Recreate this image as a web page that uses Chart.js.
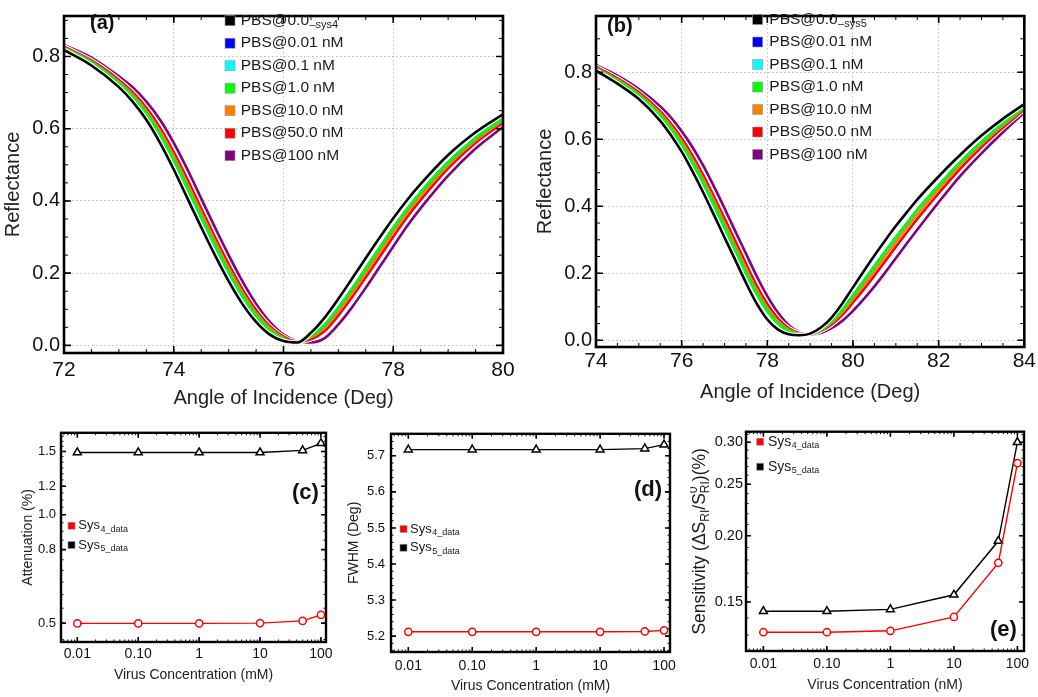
<!DOCTYPE html>
<html>
<head>
<meta charset="utf-8">
<script src="https://cdn.jsdelivr.net/npm/chart.js@4.4.1/dist/chart.umd.min.js"></script>
<style>
  html, body { margin: 0; padding: 0; background: #fff; }
  #wrap { position: relative; width: 1038px; height: 697px; overflow: hidden; }
  .panel { position: absolute; }
</style>
</head>
<body>
<div id="wrap">
  <div class="panel" style="left:0;top:0;width:520px;height:420px"><canvas id="chartA"></canvas></div>
  <div class="panel" style="left:520px;top:0;width:518px;height:420px"><canvas id="chartB"></canvas></div>
  <div class="panel" style="left:0;top:420px;width:345px;height:277px"><canvas id="chartC"></canvas></div>
  <div class="panel" style="left:345px;top:420px;width:345px;height:277px"><canvas id="chartD"></canvas></div>
  <div class="panel" style="left:690px;top:420px;width:348px;height:277px"><canvas id="chartE"></canvas></div>
</div>
<script>
const FONT = '"Liberation Sans", Arial, Helvetica, sans-serif';

// ---- panel (a): Sys4 reflectance vs angle ----
const angleA = [72, 72.5, 73, 73.25, 73.5, 73.75, 74, 74.25, 74.5, 74.75, 75, 75.25, 75.5, 75.75, 76, 76.25, 76.5, 76.75, 77, 77.25, 77.5, 77.75, 78, 78.25, 78.5, 79, 79.5, 80];
const reflA_0   = [0.818, 0.775, 0.715, 0.675, 0.625, 0.561, 0.487, 0.407, 0.327, 0.250, 0.178, 0.115, 0.065, 0.030, 0.012, 0.008, 0.035, 0.077, 0.129, 0.185, 0.242, 0.298, 0.352, 0.402, 0.447, 0.527, 0.590, 0.640];
const reflA_001 = [0.823, 0.783, 0.726, 0.689, 0.643, 0.583, 0.513, 0.435, 0.355, 0.277, 0.203, 0.137, 0.083, 0.042, 0.018, 0.009, 0.026, 0.057, 0.104, 0.157, 0.213, 0.270, 0.325, 0.377, 0.424, 0.507, 0.574, 0.628];
const reflA_01  = [0.823, 0.783, 0.726, 0.689, 0.643, 0.583, 0.513, 0.435, 0.355, 0.277, 0.203, 0.137, 0.083, 0.042, 0.018, 0.009, 0.026, 0.057, 0.104, 0.157, 0.213, 0.270, 0.325, 0.377, 0.424, 0.507, 0.574, 0.628];
const reflA_1   = [0.823, 0.783, 0.726, 0.689, 0.643, 0.583, 0.513, 0.435, 0.355, 0.277, 0.203, 0.137, 0.083, 0.042, 0.018, 0.009, 0.026, 0.057, 0.104, 0.157, 0.213, 0.270, 0.325, 0.377, 0.424, 0.507, 0.574, 0.628];
const reflA_10  = [0.825, 0.786, 0.730, 0.695, 0.650, 0.593, 0.524, 0.447, 0.367, 0.289, 0.214, 0.147, 0.090, 0.048, 0.021, 0.010, 0.022, 0.049, 0.094, 0.146, 0.201, 0.258, 0.313, 0.366, 0.414, 0.499, 0.568, 0.623];
const reflA_50  = [0.827, 0.789, 0.735, 0.701, 0.658, 0.603, 0.535, 0.459, 0.379, 0.300, 0.225, 0.156, 0.098, 0.053, 0.024, 0.011, 0.017, 0.040, 0.083, 0.134, 0.189, 0.245, 0.301, 0.355, 0.403, 0.490, 0.561, 0.617];
const reflA_100 = [0.832, 0.797, 0.745, 0.715, 0.675, 0.625, 0.561, 0.487, 0.407, 0.327, 0.250, 0.178, 0.115, 0.065, 0.030, 0.012, 0.008, 0.020, 0.058, 0.106, 0.160, 0.217, 0.274, 0.330, 0.380, 0.470, 0.545, 0.605];

// ---- panel (b): Sys5 reflectance vs angle ----
const angleB = [74, 74.5, 75, 75.5, 75.75, 76, 76.25, 76.5, 76.75, 77, 77.25, 77.5, 77.75, 78, 78.25, 78.5, 78.75, 79, 79.25, 79.5, 79.75, 80, 80.25, 80.5, 80.75, 81, 81.25, 81.5, 82, 82.5, 83, 83.5, 84];
const reflB_0   = [0.805, 0.766, 0.720, 0.655, 0.612, 0.563, 0.505, 0.442, 0.375, 0.307, 0.240, 0.172, 0.110, 0.062, 0.032, 0.018, 0.015, 0.020, 0.038, 0.068, 0.110, 0.158, 0.206, 0.253, 0.298, 0.341, 0.381, 0.420, 0.489, 0.553, 0.611, 0.661, 0.705];
const reflB_001 = [0.811, 0.774, 0.731, 0.670, 0.631, 0.584, 0.530, 0.470, 0.405, 0.337, 0.270, 0.202, 0.139, 0.087, 0.050, 0.027, 0.018, 0.019, 0.032, 0.057, 0.092, 0.134, 0.177, 0.221, 0.264, 0.307, 0.348, 0.389, 0.462, 0.531, 0.592, 0.647, 0.696];
const reflB_01  = [0.811, 0.774, 0.731, 0.670, 0.631, 0.584, 0.530, 0.470, 0.405, 0.337, 0.270, 0.202, 0.139, 0.087, 0.050, 0.027, 0.018, 0.019, 0.032, 0.057, 0.092, 0.134, 0.177, 0.221, 0.264, 0.307, 0.348, 0.389, 0.462, 0.531, 0.592, 0.647, 0.696];
const reflB_1   = [0.811, 0.774, 0.731, 0.670, 0.631, 0.584, 0.530, 0.470, 0.405, 0.337, 0.270, 0.202, 0.139, 0.087, 0.050, 0.027, 0.018, 0.019, 0.032, 0.057, 0.092, 0.134, 0.177, 0.221, 0.264, 0.307, 0.348, 0.389, 0.462, 0.531, 0.592, 0.647, 0.696];
const reflB_10  = [0.814, 0.778, 0.735, 0.677, 0.639, 0.594, 0.541, 0.482, 0.418, 0.351, 0.283, 0.216, 0.151, 0.097, 0.057, 0.032, 0.020, 0.018, 0.030, 0.052, 0.084, 0.123, 0.165, 0.207, 0.250, 0.293, 0.335, 0.375, 0.451, 0.522, 0.585, 0.641, 0.693];
const reflB_50  = [0.816, 0.782, 0.740, 0.683, 0.646, 0.603, 0.552, 0.494, 0.430, 0.364, 0.296, 0.229, 0.163, 0.108, 0.065, 0.036, 0.021, 0.017, 0.028, 0.047, 0.076, 0.113, 0.152, 0.193, 0.236, 0.279, 0.321, 0.362, 0.439, 0.512, 0.577, 0.635, 0.689];
const reflB_100 = [0.822, 0.790, 0.750, 0.698, 0.665, 0.624, 0.577, 0.522, 0.460, 0.394, 0.326, 0.259, 0.192, 0.132, 0.082, 0.045, 0.024, 0.016, 0.022, 0.036, 0.058, 0.088, 0.123, 0.161, 0.202, 0.245, 0.288, 0.330, 0.412, 0.490, 0.558, 0.621, 0.680];

const pbsLabels = ['PBS@0.0', 'PBS@0.01 nM', 'PBS@0.1 nM', 'PBS@1.0 nM', 'PBS@10.0 nM', 'PBS@50.0 nM', 'PBS@100 nM'];
const pbsColors = ['#000000', '#0000ff', '#00ffff', '#00ff00', '#ff8000', '#ff0000', '#800080'];
const pbsOrder  = [0, 3, 2, 1, 4, 5, 6];   // black on top, green over blue/cyan

const xTicksA = [72, 74, 76, 78, 80];
const xTicksB = [74, 76, 78, 80, 82, 84];
const reflTicks = [0, 0.2, 0.4, 0.6, 0.8];
const reflTickLabels = ['0.0', '0.2', '0.4', '0.6', '0.8'];

// ---- panels (c)-(e): vs virus concentration ----
const concentration = [0.01, 0.1, 1, 10, 50, 100];
const attenSys4 = [0.499, 0.499, 0.499, 0.500, 0.507, 0.527];
const attenSys5 = [1.49, 1.49, 1.49, 1.49, 1.51, 1.58];
const fwhmSys4  = [5.212, 5.212, 5.212, 5.212, 5.213, 5.216];
const fwhmSys5  = [5.717, 5.717, 5.717, 5.717, 5.720, 5.731];
const sensSys4  = [0.1316, 0.1316, 0.1324, 0.1406, 0.1778, 0.274];
const sensSys5  = [0.1441, 0.1441, 0.1453, 0.1548, 0.1954, 0.300];

const concTicks = [0.01, 0.1, 1, 10, 100];
const concTickLabels = ['0.01', '0.10', '1', '10', '100'];
const attenTicks = [0.5, 0.8, 1.0, 1.2, 1.5];
const attenTickLabels = ['0.5', '0.8', '1.0', '1.2', '1.5'];
const fwhmTicks = [5.2, 5.3, 5.4, 5.5, 5.6, 5.7];
const fwhmTickLabels = ['5.2', '5.3', '5.4', '5.5', '5.6', '5.7'];
const sensTicks = [0.15, 0.20, 0.25, 0.30];
const sensTickLabels = ['0.15', '0.20', '0.25', '0.30'];

// Sensitivity (ΔS_RI / S^0_RI)(%) pieces: [text, kind]
const sensTitleParts = [['Sensitivity (ΔS', 'n'], ['RI', 'sub'], ['/S', 'n'], ['0', 'supsub'], [')(%)', 'n']];

Chart.defaults.font.family = FONT;
Chart.defaults.color = '#161616';

// white edge under some curves, like the original export
const haloPlugin = {
  id: 'halo',
  beforeDatasetDraw(chart, args) {
    const ds = chart.data.datasets[args.index];
    if (!ds.halo) return;
    const el = args.meta.dataset, o = el.options;
    const c = o.borderColor, w = o.borderWidth;
    try {
      o.borderColor = '#ffffff'; o.borderWidth = w + 2.2;
      el.draw(chart.ctx, chart.chartArea);
    } catch (e) {}
    o.borderColor = c; o.borderWidth = w;
  }
};

// heavy frame with inward major/minor ticks on all four sides
const framePlugin = {
  id: 'frame',
  afterDatasetsDraw(chart, args, o) {
    if (!o.xMajor) return;
    const {ctx, chartArea: a, scales: {x, y}} = chart;
    ctx.save();
    ctx.strokeStyle = '#000';
    const drawX = (vals, len, lw) => {
      ctx.lineWidth = lw; ctx.beginPath();
      vals.forEach(v => {
        const p = x.getPixelForValue(v);
        if (p < a.left - 0.5 || p > a.right + 0.5) return;
        ctx.moveTo(p, a.bottom); ctx.lineTo(p, a.bottom - len);
        ctx.moveTo(p, a.top); ctx.lineTo(p, a.top + len);
      });
      ctx.stroke();
    };
    const drawY = (vals, len, lw) => {
      ctx.lineWidth = lw; ctx.beginPath();
      vals.forEach(v => {
        const p = y.getPixelForValue(v);
        if (p < a.top - 0.5 || p > a.bottom + 0.5) return;
        ctx.moveTo(a.left, p); ctx.lineTo(a.left + len, p);
        ctx.moveTo(a.right, p); ctx.lineTo(a.right - len, p);
      });
      ctx.stroke();
    };
    drawX(o.xMinor, o.minorLen, 1); drawY(o.yMinor, o.minorLen, 1);
    drawX(o.xMajor, o.majorLen, 1.6); drawY(o.yMajor, o.majorLen, 1.6);
    ctx.lineWidth = o.width;
    ctx.strokeRect(a.left, a.top, a.right - a.left, a.bottom - a.top);
    ctx.restore();
  }
};

// legend with subscripts, panel tag, and the rich y title of (e)
const decorPlugin = {
  id: 'decor',
  afterDraw(chart, args, o) {
    const ctx = chart.ctx;
    ctx.save();
    ctx.textBaseline = 'middle'; ctx.textAlign = 'left';
    if (o.legendX !== undefined) {
      chart.data.datasets.forEach((ds, i) => {
        const yy = o.legendY + i * o.legendGap;
        ctx.fillStyle = ds.borderColor;
        ctx.fillRect(o.legendX, yy - o.box / 2, o.box, o.box);
        ctx.strokeStyle = '#9a9a9a'; ctx.lineWidth = 0.6;
        ctx.strokeRect(o.legendX, yy - o.box / 2, o.box, o.box);
        ctx.fillStyle = '#1a1a1a';
        ctx.font = o.legendSize + 'px ' + FONT;
        ctx.fillText(ds.label, o.textX, yy);
        if (ds.sub) {
          const w = ctx.measureText(ds.label).width;
          ctx.font = o.subSize + 'px ' + FONT;
          ctx.fillText(ds.sub, o.textX + w + 0.5, yy + o.subDy);
        }
      });
    }
    if (o.tag) {
      ctx.fillStyle = '#111';
      ctx.font = 'bold ' + o.tagSize + 'px ' + FONT;
      ctx.fillText(o.tag, o.tagX, o.tagY);
    }
    if (o.richTitle) {
      const a = chart.chartArea;
      const big = o.richSize + 'px ' + FONT, small = Math.round(o.richSize * 0.66) + 'px ' + FONT;
      let total = 0;
      const widths = sensTitleParts.map(([t, k]) => {
        ctx.font = k === 'n' ? big : small;
        const w = k === 'supsub' ? Math.max(ctx.measureText(t).width, ctx.measureText('RI').width) : ctx.measureText(t).width;
        total += w; return w;
      });
      ctx.translate(o.richX, (a.top + a.bottom) / 2);
      ctx.rotate(-Math.PI / 2);
      ctx.fillStyle = '#1a1a1a';
      let cx = -total / 2;
      sensTitleParts.forEach(([t, k], i) => {
        if (k === 'n') { ctx.font = big; ctx.fillText(t, cx, 0); }
        else if (k === 'sub') { ctx.font = small; ctx.fillText(t, cx, 5); }
        else { ctx.font = small; ctx.fillText(t, cx, -6.5); ctx.fillText('RI', cx, 5); }
        cx += widths[i];
      });
    }
    ctx.restore();
  }
};

Chart.register(haloPlugin, framePlugin, decorPlugin);

const fixedTicks = values => ax => { ax.ticks = values.map(v => ({value: v})); };
const fitSize = size => sc => { if (sc.isHorizontal()) sc.height = size; else sc.width = size; };
const steps = (from, to, step) => { const out = []; for (let v = from; v <= to + 1e-9; v += step) out.push(+v.toFixed(4)); return out; };
const logMinor = (lo, hi) => { const out = []; for (let d = lo; d <= hi; d *= 10) for (let m = 1; m <= 9; m++) out.push(d * m); return out; };

function curveChart(id, angles, series, sub, g) {
  const datasets = series.map((vals, i) => ({
    label: pbsLabels[i],
    sub: i === 0 ? sub : '',
    data: angles.map((a, k) => ({x: a, y: vals[k]})),
    borderColor: pbsColors[i],
    backgroundColor: pbsColors[i],
    borderWidth: 2.6,
    pointRadius: 0,
    cubicInterpolationMode: 'monotone',
    order: pbsOrder[i],
    halo: i === 0 || i === 5
  }));
  const gridStyle = {color: '#bdbdbd', lineWidth: 1, drawTicks: false};
  return new Chart(document.getElementById(id), {
    type: 'line',
    data: {datasets},
    options: {
      responsive: true, maintainAspectRatio: false, animation: false,
      layout: {padding: g.pad},
      plugins: {
        legend: {display: false}, tooltip: {enabled: false},
        frame: {xMajor: g.xTicks, xMinor: steps(g.xMin, g.xMax, 0.5), yMajor: reflTicks, yMinor: steps(0, 0.9, 0.05),
                majorLen: 7, minorLen: 4, width: 2.6},
        decor: {legendX: g.legendX, legendY: g.legendY, legendGap: 22.5, box: 10, textX: g.textX,
                legendSize: 15.5, subSize: 11, subDy: 4, tag: g.tag, tagX: g.tagX, tagY: g.tagY, tagSize: 20}
      },
      scales: {
        x: {
          type: 'linear', min: g.xMin, max: g.xMax,
          afterBuildTicks: fixedTicks(g.xTicks), afterFit: fitSize(g.xH),
          ticks: {font: {size: 21}, color: '#111', padding: g.xTickPad, maxRotation: 0, autoSkip: false},
          grid: gridStyle, border: {display: false, dash: [1.5, 2.5]},
          title: {display: true, text: 'Angle of Incidence (Deg)', font: {size: 20}, color: '#222', padding: {top: 0, bottom: g.xTitlePad}}
        },
        y: {
          type: 'linear', min: g.yMin, max: g.yMax,
          afterBuildTicks: fixedTicks(reflTicks), afterFit: fitSize(g.yW),
          ticks: {font: {size: 20}, color: '#111', padding: 4, callback: (v, i) => reflTickLabels[i]},
          grid: gridStyle, border: {display: false, dash: [1.5, 2.5]},
          title: {display: true, text: 'Reflectance', font: {size: 20}, color: '#222', padding: {top: g.yTitlePad, bottom: 0}}
        }
      }
    }
  });
}

function concChart(id, s4, s5, g) {
  const mk = (label, sub, vals, color, style, r) => ({
    label, sub,
    data: concentration.map((c, k) => ({x: c, y: vals[k]})),
    borderColor: color, backgroundColor: '#ffffff',
    borderWidth: 1.4, tension: 0,
    pointStyle: style, pointRadius: r, pointBorderWidth: 1.5,
    pointBackgroundColor: '#ffffff', pointBorderColor: color
  });
  return new Chart(document.getElementById(id), {
    type: 'line',
    data: {datasets: [mk('Sys', '4_data', s4, '#ff0000', 'circle', 3.6), mk('Sys', '5_data', s5, '#000000', 'triangle', 4.6)]},
    options: {
      responsive: true, maintainAspectRatio: false, animation: false,
      layout: {padding: g.pad},
      plugins: {
        legend: {display: false}, tooltip: {enabled: false},
        frame: {xMajor: concTicks, xMinor: logMinor(0.001, 100), yMajor: g.yTicks, yMinor: g.yMinor,
                majorLen: 5, minorLen: 2.5, width: 2.4},
        decor: {legendX: g.legendX, legendY: g.legendY, legendGap: g.legendGap, box: 7, textX: g.textX,
                legendSize: g.legendSize, subSize: 9, subDy: 4, tag: g.tag, tagX: g.tagX, tagY: g.tagY, tagSize: 22,
                richTitle: !!g.richX, richX: g.richX, richSize: 17.5}
      },
      scales: {
        x: {
          type: 'logarithmic', min: g.xMin, max: g.xMax,
          afterBuildTicks: fixedTicks(concTicks), afterFit: fitSize(g.xH),
          ticks: {font: {size: 14}, color: '#111', padding: g.xTickPad, maxRotation: 0, autoSkip: false, callback: (v, i) => concTickLabels[i]},
          grid: {display: false, drawTicks: false}, border: {display: false},
          title: {display: true, text: g.xTitle, font: {size: 14}, color: '#222', padding: {top: 0, bottom: g.xTitlePad}}
        },
        y: {
          type: g.yType, min: g.yMin, max: g.yMax,
          afterBuildTicks: fixedTicks(g.yTicks), afterFit: fitSize(g.yW),
          ticks: {font: {size: g.yTickSize}, color: '#111', padding: g.yTickPad, autoSkip: false, callback: (v, i) => g.yLabels[i]},
          grid: {display: false, drawTicks: false}, border: {display: false},
          title: {display: !!g.yTitle, text: g.yTitle || '', font: {size: 14}, color: '#222', padding: {top: g.yTitlePad || 0, bottom: 0}}
        }
      }
    }
  });
}

curveChart('chartA', angleA, [reflA_0, reflA_001, reflA_01, reflA_1, reflA_10, reflA_50, reflA_100], '\u2013sys4', {
  pad: {left: 0, top: 3, right: 17, bottom: 0}, xH: 67, yW: 64,
  xMin: 72, xMax: 80, yMin: -0.021, yMax: 0.912, xTicks: xTicksA,
  xTickPad: 5, xTitlePad: 10, yTitlePad: 1,
  legendX: 225, legendY: 20.7, textX: 240.7, tag: '(a)', tagX: 90, tagY: 23
});

curveChart('chartB', angleB, [reflB_0, reflB_001, reflB_01, reflB_1, reflB_10, reflB_50, reflB_100], '\u2013sys5', {
  pad: {left: 0, top: 3, right: 12, bottom: 0}, xH: 73, yW: 76,
  xMin: 74, xMax: 84, yMin: -0.02, yMax: 0.968, xTicks: xTicksB,
  xTickPad: 2, xTitlePad: 16, yTitlePad: 13,
  legendX: 232.7, legendY: 19.5, textX: 249.3, tag: '(b)', tagX: 87, tagY: 26
});

concChart('chartC', attenSys4, attenSys5, {
  pad: {left: 0, top: 10, right: 19, bottom: 0}, xH: 55, yW: 61,
  xMin: 0.0054, xMax: 121, yType: 'logarithmic', yMin: 0.443, yMax: 1.69,
  yTicks: attenTicks, yLabels: attenTickLabels, yMinor: steps(0.45, 1.65, 0.05),
  xTickPad: 4, xTitlePad: 13, yTickPad: 5, yTickSize: 13, yTitlePad: 20,
  xTitle: 'Virus Concentration (mM)', yTitle: 'Attenuation (%)',
  legendX: 68, legendY: 105.7, legendGap: 19.3, textX: 78.3, legendSize: 13,
  tag: '(c)', tagX: 292, tagY: 73
});

concChart('chartD', fwhmSys4, fwhmSys5, {
  pad: {left: 0, top: 10, right: 20, bottom: 0}, xH: 45, yW: 46,
  xMin: 0.00536, xMax: 124, yType: 'linear', yMin: 5.156, yMax: 5.761,
  yTicks: fwhmTicks, yLabels: fwhmTickLabels, yMinor: steps(5.16, 5.76, 0.02),
  xTickPad: 6, xTitlePad: 2, yTickPad: 6, yTickSize: 13, yTitlePad: 1,
  xTitle: 'Virus Concentration (mM)', yTitle: 'FWHM (Deg)',
  legendX: 55, legendY: 109, legendGap: 18.7, textX: 65, legendSize: 13,
  tag: '(d)', tagX: 289, tagY: 70
});

concChart('chartE', sensSys4, sensSys5, {
  pad: {left: 0, top: 10, right: 14, bottom: 0}, xH: 46, yW: 56,
  xMin: 0.00533, xMax: 127, yType: 'logarithmic', yMin: 0.1213, yMax: 0.314,
  yTicks: sensTicks, yLabels: sensTickLabels, yMinor: steps(0.13, 0.31, 0.01),
  xTickPad: 5, xTitlePad: 3, yTickPad: 3, yTickSize: 14.5,
  xTitle: 'Virus Concentration (nM)', yTitle: '', richX: 10.5,
  legendX: 66.7, legendY: 21.7, legendGap: 25, textX: 78, legendSize: 14,
  tag: '(e)', tagX: 300, tagY: 210
});
</script>
</body>
</html>
